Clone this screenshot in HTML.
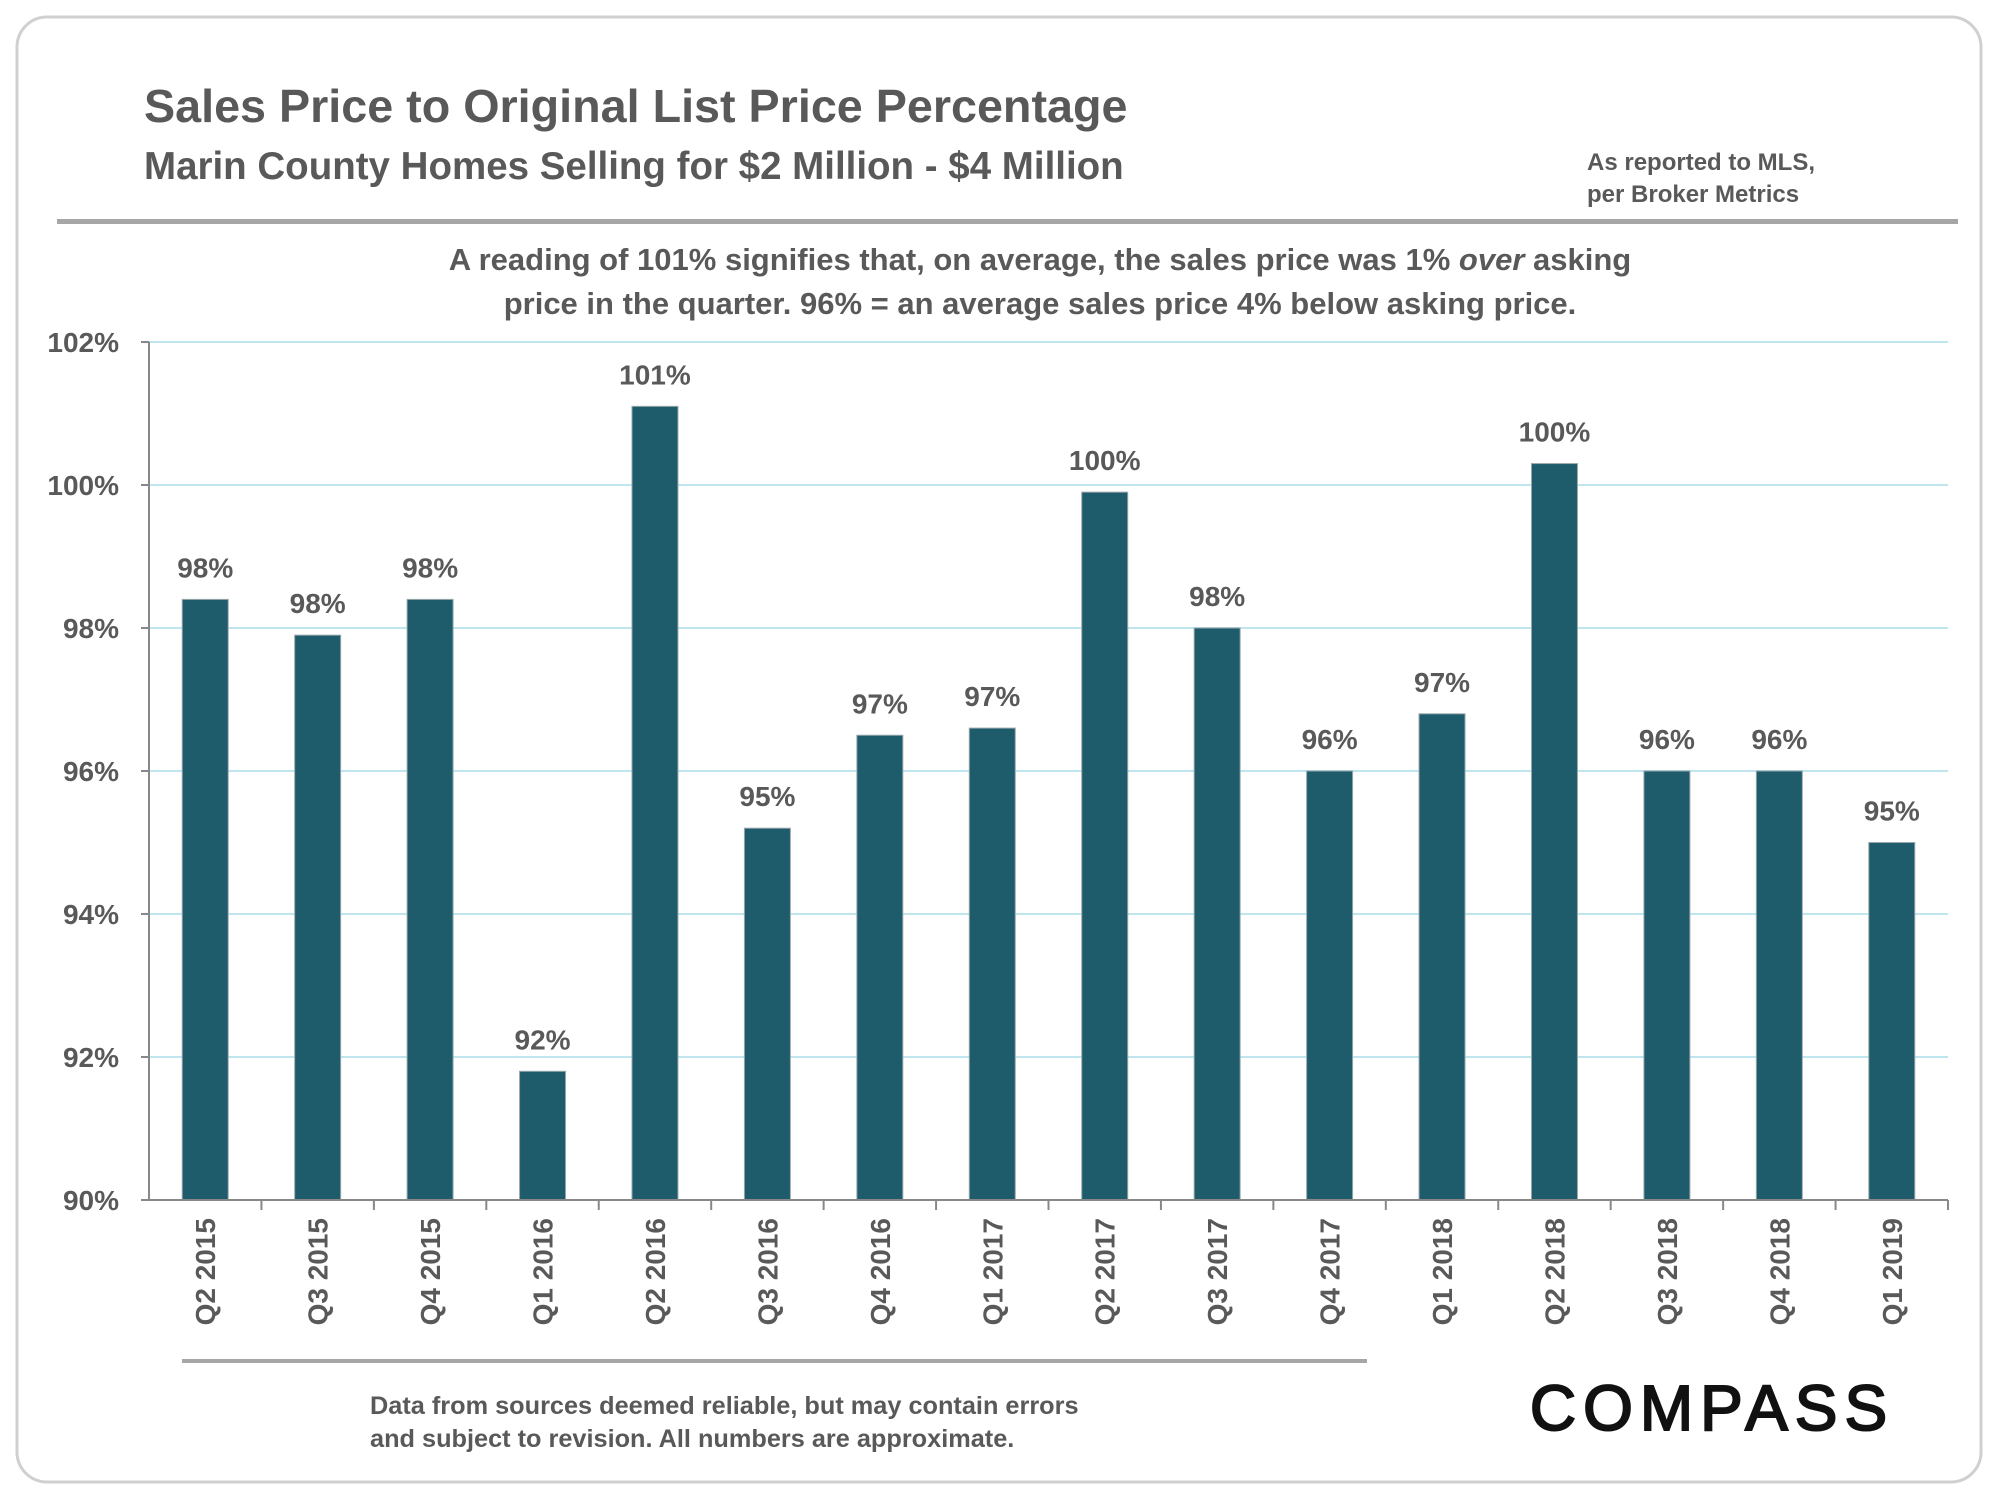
<!DOCTYPE html>
<html><head><meta charset="utf-8"><style>
html,body{margin:0;padding:0;background:#fff;}
svg{display:block;font-family:"Liberation Sans",sans-serif;}
</style></head><body>
<svg id="chart" width="2000" height="1500" viewBox="0 0 2000 1500">
<rect x="17" y="17" width="1964" height="1465" rx="30" fill="#fff" stroke="#d0d0d0" stroke-width="3"/>
<text x="144" y="122" font-size="46.7" font-weight="bold" fill="#595959">Sales Price to Original List Price Percentage</text>
<text x="144" y="179" font-size="38.5" font-weight="bold" fill="#595959">Marin County Homes Selling for $2 Million - $4 Million</text>
<text x="1587" y="170" font-size="24" font-weight="bold" fill="#595959">As reported to MLS,<tspan x="1587" dy="32">per Broker Metrics</tspan></text>
<rect x="57" y="219" width="1901" height="5" fill="#a6a6a6"/>
<text x="1040" y="270" font-size="31" font-weight="bold" fill="#595959" text-anchor="middle">A reading of 101% signifies that, on average, the sales price was 1% <tspan font-style="italic">over</tspan> asking</text>
<text x="1040" y="314" font-size="31" font-weight="bold" fill="#595959" text-anchor="middle">price in the quarter. 96% = an average sales price 4% below asking price.</text>
<g id="grid"></g><g id="bars"></g><g id="axes"></g>
<rect x="182" y="1359" width="1185" height="4" fill="#a6a6a6"/>
<text x="370" y="1414" font-size="25.3" font-weight="bold" fill="#595959">Data from sources deemed reliable, but may contain errors<tspan x="370" dy="33">and subject to revision. All numbers are approximate.</tspan></text>
<text x="1712" y="1430" font-size="64" fill="#111" stroke="#111" stroke-width="2" text-anchor="middle" letter-spacing="7">COMPASS</text>
</svg>
<script>
const categories=["Q2 2015","Q3 2015","Q4 2015","Q1 2016","Q2 2016","Q3 2016","Q4 2016","Q1 2017","Q2 2017","Q3 2017","Q4 2017","Q1 2018","Q2 2018","Q3 2018","Q4 2018","Q1 2019"];
const values=[98.4,97.9,98.4,91.8,101.1,95.2,96.5,96.6,99.9,98.0,96.0,96.8,100.3,96.0,96.0,95.0];
const yTicks=[90,92,94,96,98,100,102];
const NS="http://www.w3.org/2000/svg";
const X0=149,X1=1948,Y0=1200,Y1=342,YMIN=90,YMAX=102;
const band=(X1-X0)/categories.length;
const xc=i=>X0+band*(i+0.5);
const y=v=>Y0-(v-YMIN)/(YMAX-YMIN)*(Y0-Y1);
function mk(tag,attrs,parent){const e=document.createElementNS(NS,tag);for(const k in attrs)e.setAttribute(k,attrs[k]);document.getElementById(parent).appendChild(e);return e;}
yTicks.forEach(t=>{
  if(t>YMIN){const g=mk('line',{x1:X0,x2:X1,y1:y(t),y2:y(t),stroke:'#bfe6ef','stroke-width':2},'grid');
  
  }
  const tk=mk('line',{x1:X0-8,x2:X0,y1:y(t),y2:y(t),stroke:'#888','stroke-width':2},'axes');
  
  
  const l=mk('text',{x:X0-30,y:y(t)+10,'font-size':28,'font-weight':'bold',fill:'#595959','text-anchor':'end'},'axes');
  l.textContent=t+'%';
  
  
});
const ya=mk('line',{x1:X0,x2:X0,y1:Y1,y2:Y0,stroke:'#888','stroke-width':2},'axes');


const xa=mk('line',{x1:X0,x2:X1,y1:Y0,y2:Y0,stroke:'#888','stroke-width':2},'axes');


const bw=46;
categories.forEach((c,i)=>{
  const v=values[i];
  const b=mk('rect',{x:xc(i)-bw/2,y:y(v),width:bw,height:Y0-y(v),fill:'#1f5c6b',stroke:'#9aa8ad','stroke-width':1},'bars');
  
  
  const vl=mk('text',{x:xc(i),y:y(v)-22,'font-size':28,'font-weight':'bold',fill:'#595959','text-anchor':'middle'},'bars');
  vl.textContent=Math.round(v)+'%';
  
  
  const tk=mk('line',{x1:X0+band*(i+1),x2:X0+band*(i+1),y1:Y0,y2:Y0+10,stroke:'#888','stroke-width':2},'axes');
  
  
  const cl=mk('text',{x:0,y:0,'font-size':28,'font-weight':'bold',fill:'#595959','text-anchor':'end',transform:`translate(${xc(i)+10},${Y0+18}) rotate(-90)`},'axes');
  cl.textContent=c;
  
  
});
</script>
</body></html>
